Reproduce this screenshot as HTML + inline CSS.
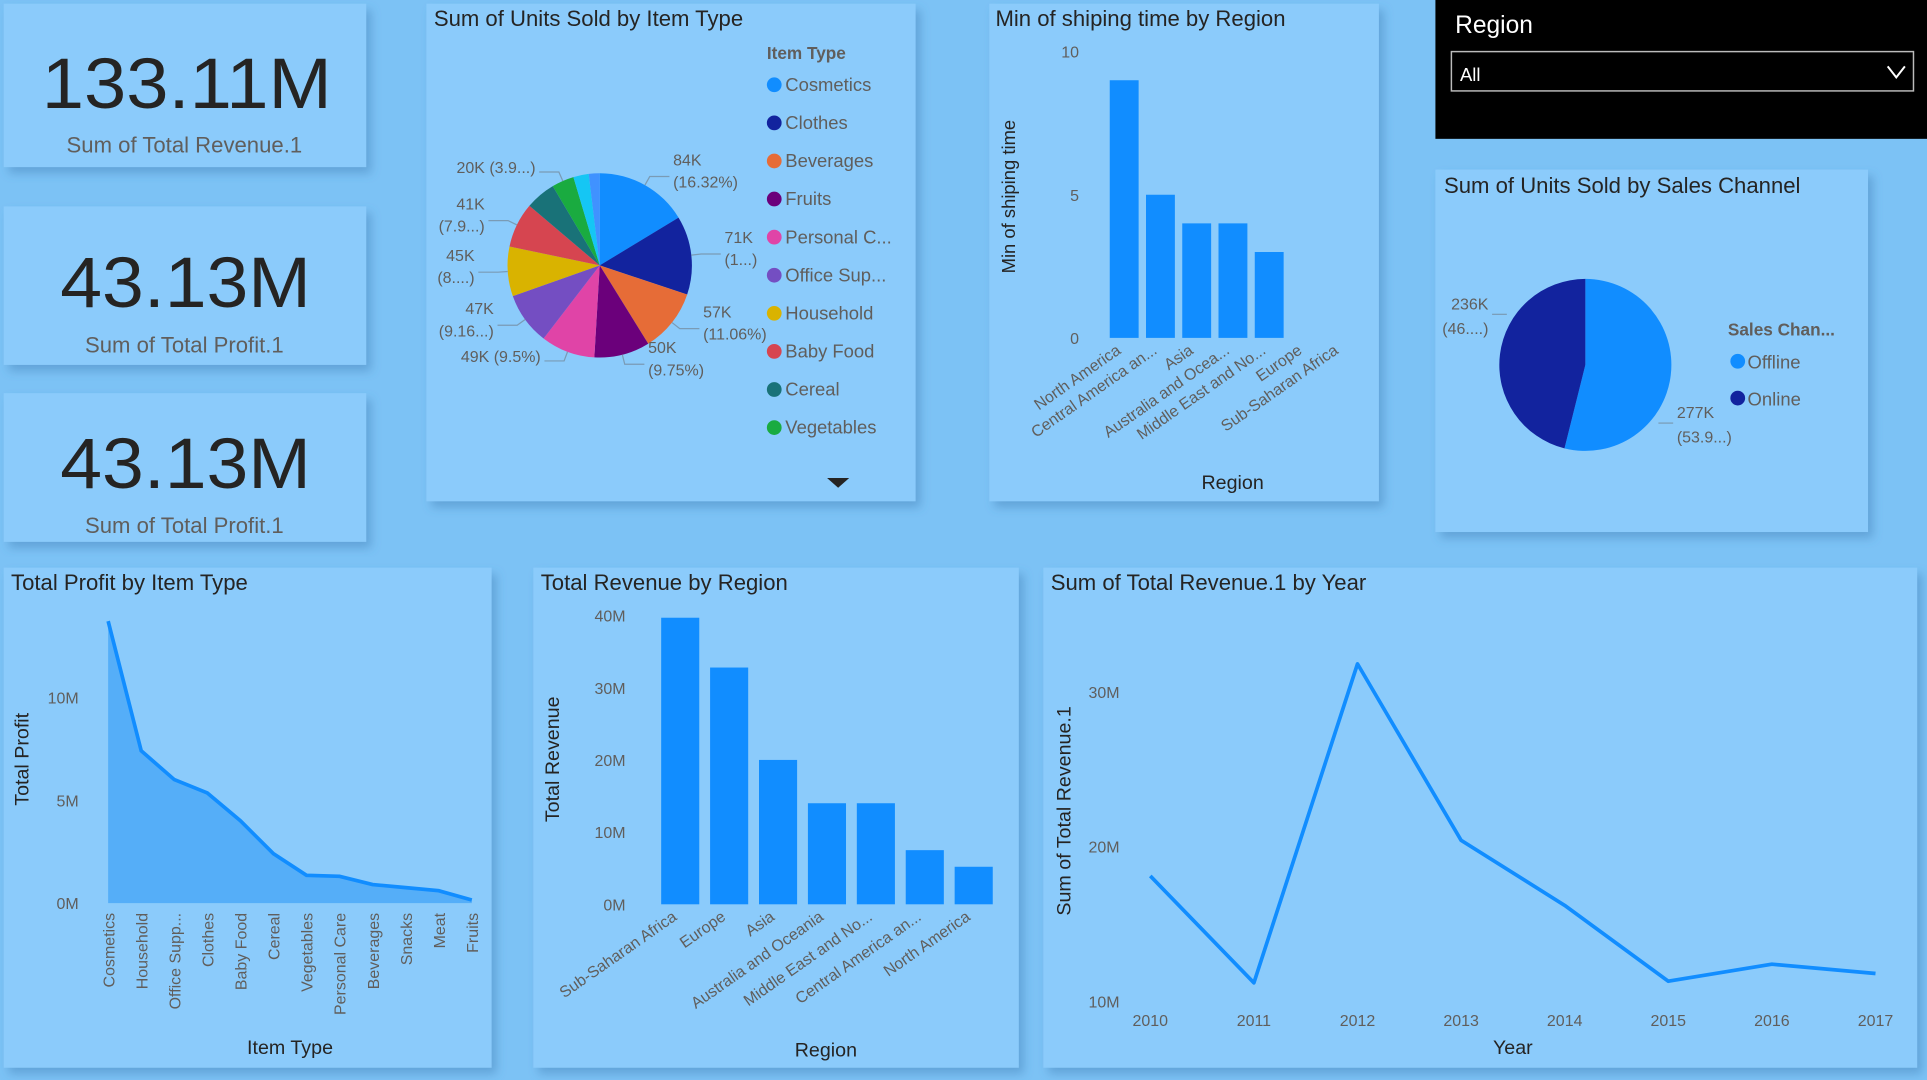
<!DOCTYPE html>
<html><head><meta charset="utf-8"><style>
html,body{margin:0;padding:0;background:#7cc2f5;overflow:hidden}
svg{display:block}
text{font-family:"Liberation Sans",sans-serif}
</style></head><body>
<svg id="dash" width="1927" height="1080" viewBox="0 0 1568 879" preserveAspectRatio="none" xmlns="http://www.w3.org/2000/svg">
<defs><filter id="sh" x="-5%" y="-5%" width="115%" height="115%"><feDropShadow dx="4" dy="5" stdDeviation="4" flood-color="#3f7fb5" flood-opacity="0.45"/></filter></defs>
<rect width="1568" height="879" fill="#7cc2f5"/>
<g id="panels"></g>
<g>
<text x="152" y="88" font-size="58" text-anchor="middle" fill="#252423" textLength="236" lengthAdjust="spacingAndGlyphs">133.11M</text>
<text x="150" y="124" font-size="18" text-anchor="middle" fill="#605e5c">Sum of Total Revenue.1</text></g>
<g>
<text x="151" y="250" font-size="58" text-anchor="middle" fill="#252423" textLength="204" lengthAdjust="spacingAndGlyphs">43.13M</text>
<text x="150" y="287" font-size="18" text-anchor="middle" fill="#605e5c">Sum of Total Profit.1</text></g>
<g>
<text x="151" y="397" font-size="58" text-anchor="middle" fill="#252423" textLength="204" lengthAdjust="spacingAndGlyphs">43.13M</text>
<text x="150" y="434" font-size="18" text-anchor="middle" fill="#605e5c">Sum of Total Profit.1</text></g>
<g id="titles" fill="#252423" font-size="18">
<text x="353" y="21">Sum of Units Sold by Item Type</text>
<text x="810" y="21">Min of shiping time by Region</text>
<text x="1175" y="157">Sum of Units Sold by Sales Channel</text>
<text x="9" y="480">Total Profit by Item Type</text>
<text x="440" y="480">Total Revenue by Region</text>
<text x="855" y="480">Sum of Total Revenue.1 by Year</text>
</g>
<g>
<rect x="1168" y="0" width="400" height="113" fill="#000"/>
<text x="1184" y="27" font-size="20" fill="#fff">Region</text>
<rect x="1181" y="42" width="376" height="32" fill="#000" stroke="#bbb" stroke-width="1.2"/>
<text x="1188" y="66" font-size="15" fill="#fff">All</text>
<path d="M1536 54 L1543 63 L1550 54" fill="none" stroke="#fff" stroke-width="1.6"/>
</g>
<g id="g-pie"></g><g id="g-ship"></g><g id="g-chan"></g><g id="g-profit"></g><g id="g-rev"></g><g id="g-year"></g>
</svg>
<script>
// ---- data ----
const pieCats=["Cosmetics","Clothes","Beverages","Fruits","Personal C...","Office Sup...","Household","Baby Food","Cereal","Vegetables","Snacks","Meat"];
const pieVals=[16.32,13.8,11.06,9.75,9.5,9.16,8.7,7.9,5.3,3.9,2.7,1.91];
const pieLabels=[["84K","(16.32%)"],["71K","(1...)"],["57K","(11.06%)"],["50K","(9.75%)"],["49K (9.5%)"],["47K","(9.16...)"],["45K","(8....)"],["41K","(7.9...)"],[],["20K (3.9...)"],[],[]];
const pieColors=["#118DFF","#12239E","#E66C37","#6B007B","#E044A7","#744EC2","#D9B300","#D64550","#197278","#1AAB40","#15C6F4","#4092FF"];
const shipCats=["North America","Central America an...","Asia","Australia and Ocea...","Middle East and No...","Europe","Sub-Saharan Africa"];
const shipVals=[9,5,4,4,3,0,0];
const shipTicks=[0,5,10];
const chanCats=["Offline","Online"];
const chanVals=[53.9,46.1];
const chanLabels=[["277K","(53.9...)"],["236K","(46....)"]];
const profitCats=["Cosmetics","Household","Office Supp...","Clothes","Baby Food","Cereal","Vegetables","Personal Care","Beverages","Snacks","Meat","Fruits"];
const profitVals=[13.7,7.4,6.0,5.35,4.0,2.4,1.35,1.3,0.9,0.75,0.6,0.15];
const profitTicks=[0,5,10];
const revCats=["Sub-Saharan Africa","Europe","Asia","Australia and Oceania","Middle East and No...","Central America an...","North America"];
const revVals=[39.7,32.8,20.0,14.0,14.0,7.5,5.2];
const revTicks=[0,10,20,30,40];
const years=["2010","2011","2012","2013","2014","2015","2016","2017"];
const yearVals=[18.1,11.2,31.8,20.4,16.2,11.3,12.4,11.8];
const yearTicks=[10,20,30];

const NS="http://www.w3.org/2000/svg";
function mk(tag,attrs,parent,txt){const e=document.createElementNS(NS,tag);for(const k in attrs)e.setAttribute(k,attrs[k]);if(txt!==undefined)e.textContent=txt;parent.appendChild(e);return e;}

// panels
const panelsG=document.getElementById('panels');
const panelBoxes=[["kpi-card-1",3,3,295,133],["kpi-card-2",3,168,295,129],["kpi-card-3",3,320,295,121],["pie-item-panel",347,3,398,405],["shipping-panel",805,3,317,405],["channel-panel",1168,138,352,295],["profit-panel",3,462,397,407],["revenue-region-panel",434,462,395,407],["year-panel",849,462,711,407]];
panelBoxes.forEach(p=>{const r=mk('rect',{x:p[1],y:p[2],width:p[3],height:p[4],fill:'#8bcbfb',filter:'url(#sh)'},panelsG);

});

// ---- pie item ----
(function(){
const g=document.getElementById('g-pie');const cx=488,cy=216,r=75;
const tot=pieVals.reduce((a,b)=>a+b,0);let a0=-Math.PI/2;
pieVals.forEach((v,i)=>{const a1=a0+v/tot*2*Math.PI;
const x0=cx+r*Math.cos(a0),y0=cy+r*Math.sin(a0),x1=cx+r*Math.cos(a1),y1=cy+r*Math.sin(a1);
const p=mk('path',{d:`M${cx},${cy}L${x0},${y0}A${r},${r} 0 ${a1-a0>Math.PI?1:0} 1 ${x1},${y1}Z`,fill:pieColors[i]},g);


const am=(a0+a1)/2;const lab=pieLabels[i];
if(lab.length){const ex=cx+(r+8)*Math.cos(am),ey=cy+(r+8)*Math.sin(am);const right=Math.cos(am)>=0;
const lx=right?ex+16:ex-16;
mk('path',{d:`M${cx+r*Math.cos(am)},${cy+r*Math.sin(am)}L${ex},${ey}L${lx},${ey}`,fill:'none',stroke:'#7a9bb5','stroke-width':1},g);
lab.forEach((t,j)=>{const tt=mk('text',{x:right?lx+3:lx-3,y:ey-3+j*18-(lab.length>1?6:-4),'font-size':13,fill:'#605e5c','text-anchor':right?'start':'end'},g,t);

});}
a0=a1;});
mk('text',{x:624,y:48,'font-size':14,'font-weight':'bold',fill:'#605e5c'},g,'Item Type');
pieCats.slice(0,10).forEach((c,i)=>{const y=69+i*31;
const le=mk('g',{},g);


mk('circle',{cx:630,cy:y,r:6,fill:pieColors[i]},le);
mk('text',{x:639,y:y+5,'font-size':15,fill:'#605e5c'},le,c);});
const ar=mk('path',{d:'M673,389 L691,389 L682,397Z',fill:'#252423'},g);


})();

// ---- shipping bars ----
(function(){
const g=document.getElementById('g-ship');const y0=275,k=23.3,x0=903,step=29.5,w=23.5;
const Y=v=>y0-v*k;
shipTicks.forEach(t=>mk('text',{x:878,y:Y(t)+5,'font-size':13,fill:'#605e5c','text-anchor':'end'},g,t));
shipVals.forEach((v,i)=>{if(v>0){const b=mk('rect',{x:x0+i*step,y:Y(v),width:w,height:v*k,fill:'#118DFF'},g);

}
const lx=x0+i*step+w/2-2;
mk('text',{x:lx,y:y0+12,'font-size':13,fill:'#605e5c','text-anchor':'end',transform:`rotate(-35 ${lx} ${y0+12})`},g,shipCats[i]);});
mk('text',{x:1003,y:398,'font-size':16,fill:'#252423','text-anchor':'middle'},g,'Region');
mk('text',{x:826,y:160,'font-size':15,fill:'#252423','text-anchor':'middle',transform:'rotate(-90 826 160)'},g,'Min of shiping time');
})();

// ---- sales channel pie ----
(function(){
const g=document.getElementById('g-chan');const cx=1290,cy=297,rx=70,ry=70;const cols=["#118DFF","#12239E"];
const tot=chanVals.reduce((a,b)=>a+b,0);let a0=-Math.PI/2;
chanVals.forEach((v,i)=>{const a1=a0+v/tot*2*Math.PI;
const p=mk('path',{d:`M${cx},${cy}L${cx+rx*Math.cos(a0)},${cy+ry*Math.sin(a0)}A${rx},${ry} 0 ${a1-a0>Math.PI?1:0} 1 ${cx+rx*Math.cos(a1)},${cy+ry*Math.sin(a1)}Z`,fill:cols[i]},g);


const am=(a0+a1)/2;const right=Math.cos(am)>=0;const ex=cx+(rx+6)*Math.cos(am+ (right?0.55:0.45)),ey=cy+(ry+6)*Math.sin(am+(right?0.55:0.45));
const lx=right?ex+12:ex-12;
mk('path',{d:`M${ex},${ey}L${lx},${ey}`,stroke:'#7a9bb5',fill:'none'},g);
chanLabels[i].forEach((t,j)=>mk('text',{x:right?lx+3:lx-3,y:ey-4+j*20,'font-size':13,fill:'#605e5c','text-anchor':right?'start':'end'},g,t));
a0=a1;});
mk('text',{x:1406,y:273,'font-size':14,'font-weight':'bold',fill:'#605e5c'},g,'Sales Chan...');
chanCats.forEach((c,i)=>{const le=mk('g',{},g);


mk('circle',{cx:1414,cy:294+i*30,r:6,fill:cols[i]},le);mk('text',{x:1422,y:300+i*30,'font-size':15,fill:'#605e5c'},le,c);});
})();

// ---- profit area ----
(function(){
const g=document.getElementById('g-profit');const y0=735,k=16.75,x0=88,step=26.9;
const Y=v=>y0-v*k,X=i=>x0+i*step;
profitTicks.forEach(t=>mk('text',{x:64,y:Y(t)+5,'font-size':13,fill:'#605e5c','text-anchor':'end'},g,t+'M'));
let d=profitVals.map((v,i)=>(i?'L':'M')+X(i)+','+Y(v)).join('');
const ar=mk('path',{d:d+`L${X(profitVals.length-1)},${y0}L${X(0)},${y0}Z`,fill:'#55aef8'},g);


const ln=mk('path',{d:d,fill:'none',stroke:'#118DFF','stroke-width':3},g);


profitCats.forEach((c,i)=>mk('text',{x:X(i)+5,y:y0+8,'font-size':13,fill:'#605e5c','text-anchor':'end',transform:`rotate(-90 ${X(i)+5} ${y0+8})`},g,c));
mk('text',{x:236,y:858,'font-size':16,fill:'#252423','text-anchor':'middle'},g,'Item Type');
mk('text',{x:23,y:618,'font-size':16,fill:'#252423','text-anchor':'middle',transform:'rotate(-90 23 618)'},g,'Total Profit');
})();

// ---- revenue by region ----
(function(){
const g=document.getElementById('g-rev');const y0=736,k=5.875,x0=538,step=39.8,w=31;
const Y=v=>y0-v*k;
revTicks.forEach(t=>mk('text',{x:509,y:Y(t)+5,'font-size':13,fill:'#605e5c','text-anchor':'end'},g,t+'M'));
revVals.forEach((v,i)=>{const b=mk('rect',{x:x0+i*step,y:Y(v),width:w,height:v*k,fill:'#118DFF'},g);


const lx=x0+i*step+w/2-2;
mk('text',{x:lx,y:y0+12,'font-size':13,fill:'#605e5c','text-anchor':'end',transform:`rotate(-35 ${lx} ${y0+12})`},g,revCats[i]);});
mk('text',{x:672,y:860,'font-size':16,fill:'#252423','text-anchor':'middle'},g,'Region');
mk('text',{x:455,y:618,'font-size':16,fill:'#252423','text-anchor':'middle',transform:'rotate(-90 455 618)'},g,'Total Revenue');
})();

// ---- revenue by year ----
(function(){
const g=document.getElementById('g-year');const k=12.6,yb=815,x0=936,step=84.3;
const Y=v=>yb-(v-10)*k,X=i=>x0+i*step;
yearTicks.forEach(t=>{mk('text',{x:911,y:Y(t)+5,'font-size':13,fill:'#605e5c','text-anchor':'end'},g,t+'M');});
const ln=mk('path',{d:yearVals.map((v,i)=>(i?'L':'M')+X(i)+','+Y(v)).join(''),fill:'none',stroke:'#118DFF','stroke-width':3,'stroke-linejoin':'round'},g);


years.forEach((y,i)=>mk('text',{x:X(i),y:835,'font-size':13,fill:'#605e5c','text-anchor':'middle'},g,y));
mk('text',{x:1231,y:858,'font-size':16,fill:'#252423','text-anchor':'middle'},g,'Year');
mk('text',{x:871,y:660,'font-size':16,fill:'#252423','text-anchor':'middle',transform:'rotate(-90 871 660)'},g,'Sum of Total Revenue.1');
})();
</script>
</body></html>
